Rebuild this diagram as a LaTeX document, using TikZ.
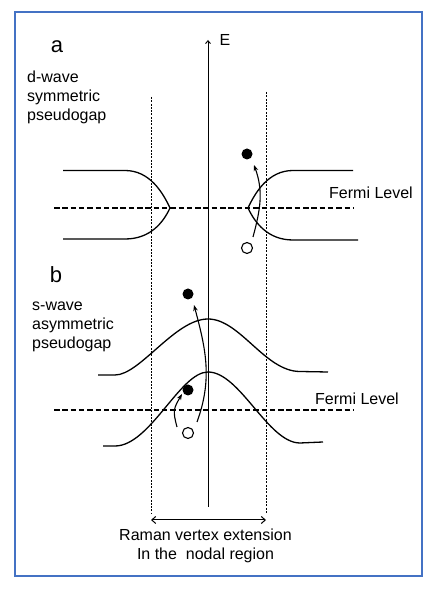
\documentclass[tikz,border=0pt]{standalone}
\usepackage{fontspec}
\setmainfont{Liberation Sans}
\usetikzlibrary{arrows.meta}
\definecolor{frameblue}{RGB}{68,114,196}

\begin{document}
\begin{tikzpicture}[
    x=1pt, y=1pt,
    >=Stealth,
    lbl/.style={font=\fontsize{16}{19}\selectfont, inner sep=0pt},
    panel/.style={font=\fontsize{22}{24}\selectfont, inner sep=0pt, anchor=base},
    band/.style={line width=1.3pt},
    fermi/.style={line width=1.2pt, dash pattern=on 5.5pt off 2.8pt},
    window/.style={line width=0.8pt, dash pattern=on 2pt off 1.3pt},
    dot/.style={circle, fill, inner sep=0pt, minimum size=11pt},
    hole/.style={circle, draw, line width=1.1pt, inner sep=0pt, minimum size=11pt},
    jump/.style={-{Stealth[length=6pt,width=4.5pt]}, line width=1.1pt}
]
    \useasboundingbox (0,0) rectangle (436,589);
    \draw[frameblue, line width=1.4pt] (15,13) rectangle (422,577);

    % energy axis and nodal window
    \coordinate (axbot) at (208,82);
    \coordinate (axtop) at (208,549);
    \draw[-{Straight Barb[length=3pt,width=5pt]}, line width=0.9pt] (axbot) -- (axtop);
    \node[lbl] (E) at (225,549) {E};
    \coordinate (wl-t) at (151,492);
    \coordinate (wl-b) at (151,76);
    \coordinate (wr-t) at (266,497);
    \coordinate (wr-b) at (266,76);
    \draw[window] (wl-t) -- (wl-b);
    \draw[window] (wr-t) -- (wr-b);
    \coordinate (wl-a) at (151,69);
    \coordinate (wr-a) at (266,69);
    \draw[{Straight Barb[length=4pt,width=7pt]}-{Straight Barb[length=4pt,width=7pt]}, line width=1pt] (wl-a) -- (wr-a);
    \node[lbl, align=center] (ext) at (205.5,43.5) {Raman vertex extension\\In the \ nodal region};

    % panel a
    \node[panel] (pa) at (57,536) {a};
    \node[lbl, align=left, anchor=north west] (dwave) at (27,518) {d-wave\\symmetric\\pseudogap};
    \coordinate (fa-l) at (54,381);
    \coordinate (fa-r) at (354,381);
    \draw[fermi] (fa-l) -- (fa-r);
    \node[lbl] (fla) at (371,396) {Fermi Level};
    \draw[band] (63,418.5) -- (125,418.5) .. controls (150,418.5) and (163,396) .. (170,381)
        .. controls (163,366) and (150,350) .. (125,350) -- (63,350);
    \draw[band] (353,418.5) -- (293,418.5) .. controls (268,418.5) and (255,396) .. (248,381)
        .. controls (255,366) and (268,349) .. (293,349) -- (358,349);
    \node[dot] (ea) at (247,435) {};
    \node[hole] (ha) at (247,341) {};
    \draw[jump] ([shift={(6,11)}]ha.center) to[out=75,in=-70] ([shift={(7,-11)}]ea.center);

    % panel b
    \node[panel] (pb) at (56,306) {b};
    \node[lbl, align=left, anchor=north west] (swave) at (32,287) {s-wave\\asymmetric\\pseudogap};
    \coordinate (fb-l) at (54,179);
    \coordinate (fb-r) at (354,179);
    \draw[fermi] (fb-l) -- (fb-r);
    \node[lbl] (flb) at (357,190) {Fermi Level};
    \draw[band] (98,214) -- (115,214) .. controls (140,214) and (175,270) .. (208,270)
        .. controls (240,270) and (265,217.5) .. (300,217.5) -- (328,217);
    \draw[band] (103,143) -- (115,143) .. controls (150,143) and (180,217) .. (208,217)
        .. controls (240,217) and (268,146) .. (300,146) -- (323,147);
    \node[dot] (eb1) at (188,295) {};
    \node[dot] (eb2) at (188,199) {};
    \node[hole] (hb) at (188,156) {};
    \draw[jump] ([shift={(9,11)}]hb.center) to[out=70,in=-75] ([shift={(6,-11)}]eb1.center);
    \draw[jump] ([shift={(-11,6)}]hb.center) to[out=105,in=-120,looseness=1.3] ([shift={(-6,-4)}]eb2.center);
\end{tikzpicture}
\end{document}
